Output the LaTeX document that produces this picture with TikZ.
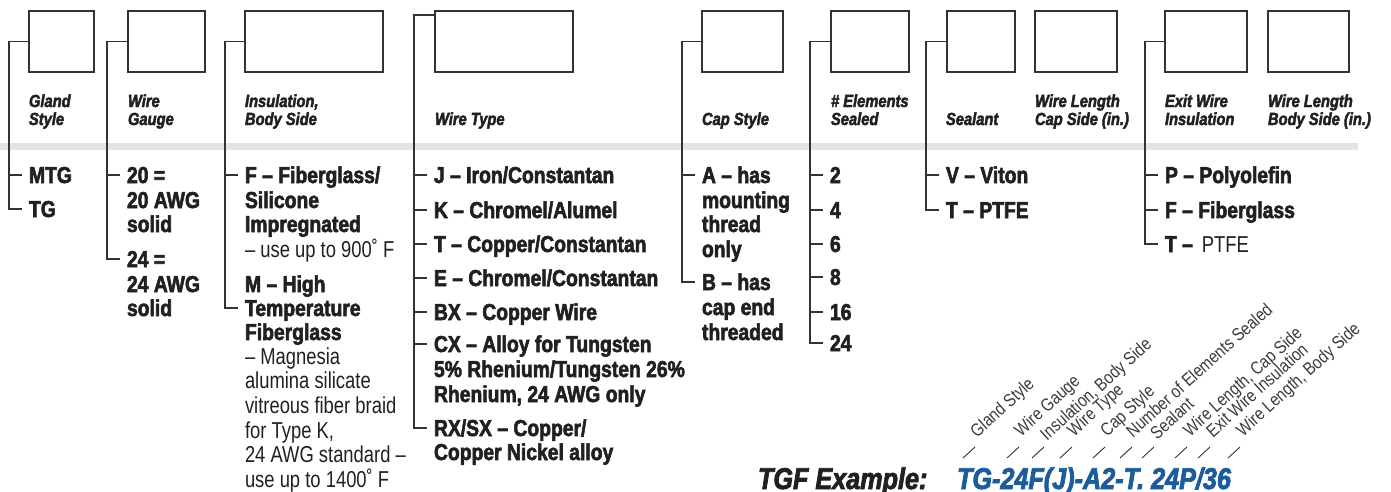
\documentclass[tikz,border=0pt]{standalone}
\usepackage{fontspec}
\setmainfont{Liberation Sans}[FakeStretch=0.84, BoldFeatures={FakeBold=2.5}, BoldItalicFeatures={FakeBold=2.5}]
\newfontfamily\lightfont{Liberation Sans}[FakeStretch=0.8]
\newfontfamily\rotfont{Liberation Sans}[FakeStretch=0.84]
\definecolor{ink}{HTML}{231F20}
\definecolor{linec}{HTML}{333333}
\definecolor{band}{HTML}{E3E3E3}
\definecolor{codeblue}{HTML}{1C5C9C}
\definecolor{rotc}{HTML}{3A3A3A}
\newcommand\itemtick[1]{\draw[conn] ([xshift=-20pt,yshift=8pt]#1.base west) -- ([xshift=-7pt,yshift=8pt]#1.base west);}
\begin{document}
\begin{tikzpicture}[x=1pt,y=-1pt,
  every node/.style={inner sep=0pt, outer sep=0pt, text=ink},
  codebox/.style={draw=linec, line width=1.4pt, fill=white, minimum height=61pt, minimum width=#1, anchor=north west},
  conn/.style={draw=linec, line width=1.25pt},
  slashmark/.style={draw=linec, line width=0.9pt},
  hd/.style={font=\bfseries\itshape\fontsize{17.5}{18.5}\selectfont, anchor=base west},
  it/.style={font=\bfseries\fontsize{23}{24.5}\selectfont, anchor=base west},
  lt/.style={font=\lightfont\fontsize{23}{24.5}\selectfont, anchor=base west},
  rl/.style={font=\rotfont\fontsize{18}{18}\selectfont, text=rotc, rotate=42, anchor=base west}
]
\useasboundingbox (0,0) rectangle (1391,491);
% gray band
\fill[band] (0,143) rectangle (1358,150);

% code boxes
\node[codebox=65pt] (b1) at (29,11) {};
\node[codebox=77pt] (b2) at (128,11) {};
\node[codebox=138pt] (b3) at (245,11) {};
\node[codebox=138pt] (b4) at (435,11) {};
\node[codebox=81pt] (b5) at (702,11) {};
\node[codebox=78pt] (b6) at (831,11) {};
\node[codebox=68pt] (b7) at (947,11) {};
\node[codebox=82pt] (b8) at (1035,11) {};
\node[codebox=82pt] (b9) at (1165,11) {};
\node[codebox=81pt] (b10) at (1268,11) {};

% headers
\node[hd] (h1a) at (29,107) {Gland};
\node[hd] (h1b) at (29,125) {Style};
\node[hd] (h2a) at (128,107) {Wire};
\node[hd] (h2b) at (128,125) {Gauge};
\node[hd] (h3a) at (245,107) {Insulation,};
\node[hd] (h3b) at (245,125) {Body Side};
\node[hd] (h4) at (435,125) {Wire Type};
\node[hd] (h5) at (702,125) {Cap Style};
\node[hd] (h6a) at (831,107) {\# Elements};
\node[hd] (h6b) at (831,125) {Sealed};
\node[hd] (h7) at (946,125) {Sealant};
\node[hd] (h8a) at (1035,107) {Wire Length};
\node[hd] (h8b) at (1035,125) {Cap Side (in.)};
\node[hd] (h9a) at (1165,107) {Exit Wire};
\node[hd] (h9b) at (1165,125) {Insulation};
\node[hd] (h10a) at (1268,107) {Wire Length};
\node[hd] (h10b) at (1268,125) {Body Side (in.)};

% Gland style
\node[it] (g1) at (29,183) {MTG};
\node[it] (g2) at (29,217) {TG};
\itemtick{g1}
\draw[conn] (b1.west) -| ([xshift=-20pt,yshift=8pt]g2.base west) -- ([xshift=-7pt,yshift=8pt]g2.base west);

% Wire gauge
\node[it] (w1) at (127,183) {20 =};
\node[it] (w1b) at (127,208) {20 AWG};
\node[it] (w1c) at (127,232) {solid};
\node[it] (w2) at (127,267) {24 =};
\node[it] (w2b) at (127,292) {24 AWG};
\node[it] (w2c) at (127,316) {solid};
\itemtick{w1}
\draw[conn] (b2.west) -| ([xshift=-20pt,yshift=8pt]w2.base west) -- ([xshift=-7pt,yshift=8pt]w2.base west);

% Insulation
\node[it] (i1) at (245,183) {F – Fiberglass/};
\node[it] (i1b) at (245,208) {Silicone};
\node[it] (i1c) at (245,232) {Impregnated};
\node[lt] (i1d) at (245,257) {– use up to 900˚ F};
\node[it] (i2) at (245,292) {M – High};
\node[it] (i2b) at (245,316) {Temperature};
\node[it] (i2c) at (245,340) {Fiberglass};
\node[lt] (i2d) at (245,364) {– Magnesia};
\node[lt] (i2e) at (245,388) {alumina silicate};
\node[lt] (i2f) at (245,413) {vitreous fiber braid};
\node[lt] (i2g) at (245,438) {for Type K,};
\node[lt] (i2h) at (245,462) {24 AWG standard –};
\node[lt] (i2i) at (245,487) {use up to 1400˚ F};
\itemtick{i1}
\draw[conn] (b3.west) -| ([xshift=-20pt,yshift=8pt]i2b.base west) -- ([xshift=-7pt,yshift=8pt]i2b.base west);

% Wire type
\node[it] (t1) at (434,183) {J – Iron/Constantan};
\node[it] (t2) at (434,218) {K – Chromel/Alumel};
\node[it] (t3) at (434,252) {T – Copper/Constantan};
\node[it] (t4) at (434,286) {E – Chromel/Constantan};
\node[it] (t5) at (434,320) {BX – Copper Wire};
\node[it] (t6) at (434,352) {CX – Alloy for Tungsten};
\node[it] (t6b) at (434,377) {5\% Rhenium/Tungsten 26\%};
\node[it] (t6c) at (434,402) {Rhenium, 24 AWG only};
\node[it] (t7) at (434,436) {RX/SX – Copper/};
\node[it] (t7b) at (434,460) {Copper Nickel alloy};
\itemtick{t1}\itemtick{t2}\itemtick{t3}\itemtick{t4}\itemtick{t5}\itemtick{t6}
\draw[conn] ([yshift=-4pt]b4.north west) -| ([xshift=-20pt,yshift=8pt]t7.base west) -- ([xshift=-7pt,yshift=8pt]t7.base west);

% Cap style
\node[it] (c1) at (702,183) {A – has};
\node[it] (c1b) at (702,208) {mounting};
\node[it] (c1c) at (702,232) {thread};
\node[it] (c1d) at (702,257) {only};
\node[it] (c2) at (702,290) {B – has};
\node[it] (c2b) at (702,315) {cap end};
\node[it] (c2c) at (702,340) {threaded};
\itemtick{c1}
\draw[conn] (b5.west) -| ([xshift=-20pt,yshift=8pt]c2.base west) -- ([xshift=-7pt,yshift=8pt]c2.base west);

% Elements sealed
\node[it] (e1) at (830,183) {2};
\node[it] (e2) at (830,218) {4};
\node[it] (e3) at (830,252) {6};
\node[it] (e4) at (830,285) {8};
\node[it] (e5) at (830,320) {16};
\node[it] (e6) at (830,351) {24};
\itemtick{e1}\itemtick{e2}\itemtick{e3}\itemtick{e4}\itemtick{e5}
\draw[conn] (b6.west) -| ([xshift=-20pt,yshift=8pt]e6.base west) -- ([xshift=-7pt,yshift=8pt]e6.base west);

% Sealant
\node[it] (s1) at (946,183) {V – Viton};
\node[it] (s2) at (946,218) {T – PTFE};
\itemtick{s1}
\draw[conn] (b7.west) -| ([xshift=-20pt,yshift=8pt]s2.base west) -- ([xshift=-7pt,yshift=8pt]s2.base west);

% Exit wire insulation
\node[it] (x1) at (1165,183) {P – Polyolefin};
\node[it] (x2) at (1165,218) {F – Fiberglass};
\node[it] (x3) at (1165,252) {T –\hspace{9pt}{\lightfont\mdseries PTFE}};
\itemtick{x1}\itemtick{x2}
\draw[conn] (b9.west) -| ([xshift=-20pt,yshift=8pt]x3.base west) -- ([xshift=-7pt,yshift=8pt]x3.base west);

% example
\node[font=\bfseries\itshape\fontsize{30}{30}\selectfont, anchor=base west] (exl) at (758,489) {TGF Example:};
\node[font=\bfseries\itshape\fontsize{30}{30}\selectfont, text=codeblue, anchor=base west] (exc) at (957,489) {TG-24F(J)-A2-T. 24P/36};

% rotated labels
\node[rl] (r1) at (977,438) {Gland Style};
\node[rl] (r2) at (1021,437) {Wire Gauge};
\node[rl] (r3) at (1047,441) {Insulation, Body Side};
\node[rl] (r4) at (1074,437) {Wire Type};
\node[rl] (r5) at (1107,437) {Cap Style};
\node[rl] (r6) at (1133,438) {Number of Elements Sealed};
\node[rl] (r7) at (1157,440) {Sealant};
\node[rl] (r8) at (1190,437) {Wire Length, Cap Side};
\node[rl] (r9) at (1213,438) {Exit Wire Insulation};
\node[rl] (r10) at (1243,437) {Wire Length, Body Side};
\draw[slashmark] (963,458) -- (975,447);
\draw[slashmark] (1007,458) -- (1019,447);
\draw[slashmark] (1032,458) -- (1044,447);
\draw[slashmark] (1060,458) -- (1072,447);
\draw[slashmark] (1093,458) -- (1105,447);
\draw[slashmark] (1120,458) -- (1132,447);
\draw[slashmark] (1142,458) -- (1154,447);
\draw[slashmark] (1175,458) -- (1187,447);
\draw[slashmark] (1198,458) -- (1210,447);
\draw[slashmark] (1228,458) -- (1240,447);
\end{tikzpicture}
\end{document}
